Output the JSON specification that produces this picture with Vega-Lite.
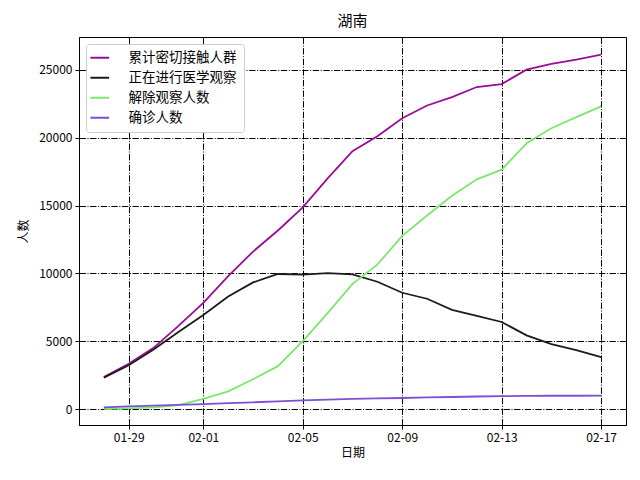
{
  "$schema": "https://vega.github.io/schema/vega-lite/v6.json",
  "autosize": "none",
  "width": 547,
  "height": 388,
  "padding": {"left": 79, "top": 37, "right": 14, "bottom": 55},
  "background": "white",
  "title": {"text": "湖南", "fontSize": 15, "fontWeight": "normal", "font": "Noto Sans CJK SC", "color": "black", "offset": 8},
  "config": {
    "font": "Noto Sans CJK SC",
    "view": {"stroke": "black", "strokeWidth": 1},
    "axis": {
      "domainColor": "black", "tickColor": "black", "labelColor": "black", "titleColor": "black",
      "labelFontSize": 12, "titleFontSize": 12, "titleFontWeight": "normal",
      "gridColor": "black", "gridOpacity": 1, "gridDash": [6.4, 1.6, 1, 1.6], "gridWidth": 1,
      "tickSize": 4, "labelPadding": 3
    }
  },
  "datasets": {
    "d": [
      {"date": "2020-01-28", "series": "累计密切接触人群", "value": 2370},
      {"date": "2020-01-29", "series": "累计密切接触人群", "value": 3350},
      {"date": "2020-01-30", "series": "累计密切接触人群", "value": 4530},
      {"date": "2020-01-31", "series": "累计密切接触人群", "value": 6140},
      {"date": "2020-02-01", "series": "累计密切接触人群", "value": 7840},
      {"date": "2020-02-02", "series": "累计密切接触人群", "value": 9800},
      {"date": "2020-02-03", "series": "累计密切接触人群", "value": 11610},
      {"date": "2020-02-04", "series": "累计密切接触人群", "value": 13160},
      {"date": "2020-02-05", "series": "累计密切接触人群", "value": 14860},
      {"date": "2020-02-06", "series": "累计密切接触人群", "value": 17000},
      {"date": "2020-02-07", "series": "累计密切接触人群", "value": 19000},
      {"date": "2020-02-08", "series": "累计密切接触人群", "value": 20100},
      {"date": "2020-02-09", "series": "累计密切接触人群", "value": 21420},
      {"date": "2020-02-10", "series": "累计密切接触人群", "value": 22360},
      {"date": "2020-02-11", "series": "累计密切接触人群", "value": 22980},
      {"date": "2020-02-12", "series": "累计密切接触人群", "value": 23720},
      {"date": "2020-02-13", "series": "累计密切接触人群", "value": 23940},
      {"date": "2020-02-14", "series": "累计密切接触人群", "value": 25000},
      {"date": "2020-02-15", "series": "累计密切接触人群", "value": 25420},
      {"date": "2020-02-16", "series": "累计密切接触人群", "value": 25740},
      {"date": "2020-02-17", "series": "累计密切接触人群", "value": 26110},
      {"date": "2020-01-28", "series": "正在进行医学观察", "value": 2340},
      {"date": "2020-01-29", "series": "正在进行医学观察", "value": 3250},
      {"date": "2020-01-30", "series": "正在进行医学观察", "value": 4400},
      {"date": "2020-01-31", "series": "正在进行医学观察", "value": 5700},
      {"date": "2020-02-01", "series": "正在进行医学观察", "value": 6950},
      {"date": "2020-02-02", "series": "正在进行医学观察", "value": 8300},
      {"date": "2020-02-03", "series": "正在进行医学观察", "value": 9340},
      {"date": "2020-02-04", "series": "正在进行医学观察", "value": 9960},
      {"date": "2020-02-05", "series": "正在进行医学观察", "value": 9910},
      {"date": "2020-02-06", "series": "正在进行医学观察", "value": 10030},
      {"date": "2020-02-07", "series": "正在进行医学观察", "value": 9930},
      {"date": "2020-02-08", "series": "正在进行医学观察", "value": 9390},
      {"date": "2020-02-09", "series": "正在进行医学观察", "value": 8580},
      {"date": "2020-02-10", "series": "正在进行医学观察", "value": 8140},
      {"date": "2020-02-11", "series": "正在进行医学观察", "value": 7320},
      {"date": "2020-02-12", "series": "正在进行医学观察", "value": 6880},
      {"date": "2020-02-13", "series": "正在进行医学观察", "value": 6430},
      {"date": "2020-02-14", "series": "正在进行医学观察", "value": 5450},
      {"date": "2020-02-15", "series": "正在进行医学观察", "value": 4800},
      {"date": "2020-02-16", "series": "正在进行医学观察", "value": 4360},
      {"date": "2020-02-17", "series": "正在进行医学观察", "value": 3850},
      {"date": "2020-01-28", "series": "解除观察人数", "value": 30},
      {"date": "2020-01-29", "series": "解除观察人数", "value": 70},
      {"date": "2020-01-30", "series": "解除观察人数", "value": 150},
      {"date": "2020-01-31", "series": "解除观察人数", "value": 320},
      {"date": "2020-02-01", "series": "解除观察人数", "value": 780},
      {"date": "2020-02-02", "series": "解除观察人数", "value": 1330},
      {"date": "2020-02-03", "series": "解除观察人数", "value": 2220},
      {"date": "2020-02-04", "series": "解除观察人数", "value": 3180},
      {"date": "2020-02-05", "series": "解除观察人数", "value": 5030},
      {"date": "2020-02-06", "series": "解除观察人数", "value": 7080},
      {"date": "2020-02-07", "series": "解除观察人数", "value": 9240},
      {"date": "2020-02-08", "series": "解除观察人数", "value": 10650},
      {"date": "2020-02-09", "series": "解除观察人数", "value": 12770},
      {"date": "2020-02-10", "series": "解除观察人数", "value": 14270},
      {"date": "2020-02-11", "series": "解除观察人数", "value": 15720},
      {"date": "2020-02-12", "series": "解除观察人数", "value": 16930},
      {"date": "2020-02-13", "series": "解除观察人数", "value": 17640},
      {"date": "2020-02-14", "series": "解除观察人数", "value": 19580},
      {"date": "2020-02-15", "series": "解除观察人数", "value": 20690},
      {"date": "2020-02-16", "series": "解除观察人数", "value": 21500},
      {"date": "2020-02-17", "series": "解除观察人数", "value": 22290},
      {"date": "2020-01-28", "series": "确诊人数", "value": 143},
      {"date": "2020-01-29", "series": "确诊人数", "value": 221},
      {"date": "2020-01-30", "series": "确诊人数", "value": 277},
      {"date": "2020-01-31", "series": "确诊人数", "value": 332},
      {"date": "2020-02-01", "series": "确诊人数", "value": 389},
      {"date": "2020-02-02", "series": "确诊人数", "value": 463},
      {"date": "2020-02-03", "series": "确诊人数", "value": 521},
      {"date": "2020-02-04", "series": "确诊人数", "value": 593},
      {"date": "2020-02-05", "series": "确诊人数", "value": 661},
      {"date": "2020-02-06", "series": "确诊人数", "value": 711},
      {"date": "2020-02-07", "series": "确诊人数", "value": 772},
      {"date": "2020-02-08", "series": "确诊人数", "value": 803},
      {"date": "2020-02-09", "series": "确诊人数", "value": 838},
      {"date": "2020-02-10", "series": "确诊人数", "value": 879},
      {"date": "2020-02-11", "series": "确诊人数", "value": 912},
      {"date": "2020-02-12", "series": "确诊人数", "value": 946},
      {"date": "2020-02-13", "series": "确诊人数", "value": 968},
      {"date": "2020-02-14", "series": "确诊人数", "value": 988},
      {"date": "2020-02-15", "series": "确诊人数", "value": 1001},
      {"date": "2020-02-16", "series": "确诊人数", "value": 1004},
      {"date": "2020-02-17", "series": "确诊人数", "value": 1006}
    ]
  },
  "data": {"name": "d"},
  "mark": {"type": "line", "strokeWidth": 1.8, "clip": true},
  "encoding": {
    "x": {
      "field": "date", "type": "temporal", "title": "日期",
      "scale": {"type": "utc", "domain": [{"year": 2020, "month": 1, "date": 27, "utc": true}, {"year": 2020, "month": 2, "date": 18, "utc": true}]},
      "axis": {
        "format": "%m-%d",
        "values": [
          {"year": 2020, "month": 1, "date": 29, "utc": true},
          {"year": 2020, "month": 2, "date": 1, "utc": true},
          {"year": 2020, "month": 2, "date": 5, "utc": true},
          {"year": 2020, "month": 2, "date": 9, "utc": true},
          {"year": 2020, "month": 2, "date": 13, "utc": true},
          {"year": 2020, "month": 2, "date": 17, "utc": true}
        ],
        "labelFlush": false, "labelOverlap": false, "titlePadding": 4
      }
    },
    "y": {
      "field": "value", "type": "quantitative", "title": "人数",
      "scale": {"domain": [-1150, 27400], "nice": false, "zero": false},
      "axis": {"values": [0, 5000, 10000, 15000, 20000, 25000], "format": "d", "titlePadding": 8}
    },
    "color": {
      "field": "series", "type": "nominal",
      "scale": {
        "domain": ["累计密切接触人群", "正在进行医学观察", "解除观察人数", "确诊人数"],
        "range": ["#9a0c98", "#1c1c16", "#7ae86a", "#7b50d6"]
      },
      "legend": {
        "title": null, "orient": "top-left", "offset": 7,
        "symbolType": "M-1.87,0H1.87", "symbolSize": 100, "symbolStrokeWidth": 2,
        "labelFontSize": 13.5, "labelColor": "black", "rowPadding": 5, "labelOffset": 22,
        "padding": 7, "strokeColor": "#cccccc", "fillColor": "white", "cornerRadius": 3
      }
    }
  }
}
